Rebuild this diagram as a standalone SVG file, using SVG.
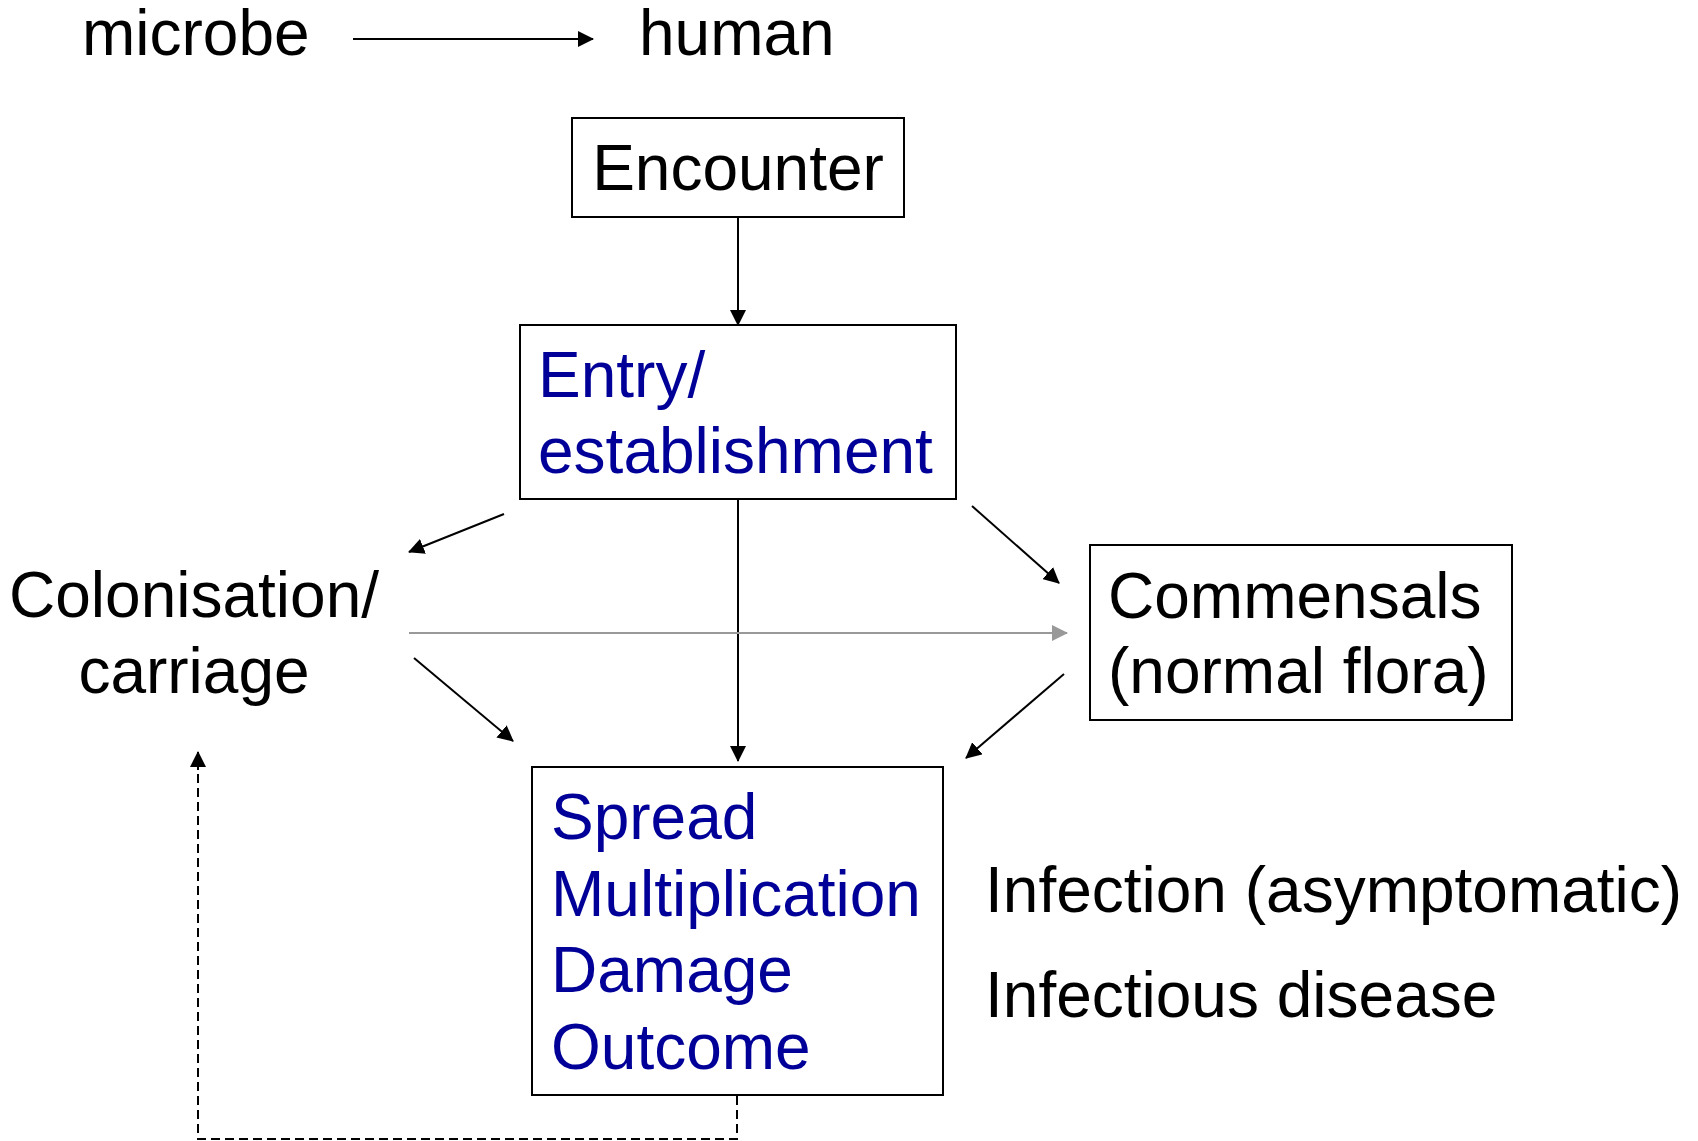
<svg xmlns="http://www.w3.org/2000/svg" width="1698" height="1141" viewBox="0 0 1698 1141">
  <style>
    text { font-family: "Liberation Sans", Arial, sans-serif; font-size: 64px; fill: #000; }
    .blue { fill: #000099; }
    .box { fill: #fff; stroke: #000; stroke-width: 2; }
    .link { fill: none; stroke: #000; stroke-width: 2; }
    .faint { fill: none; stroke: #999; stroke-width: 2; }
    .dash { fill: none; stroke: #000; stroke-width: 2; stroke-dasharray: 9 5; }
  </style>
  <defs>
    <marker id="head" markerUnits="userSpaceOnUse" markerWidth="16" markerHeight="16" refX="15" refY="8" orient="auto">
      <path d="M0,0 L16,8 L0,16 z" fill="#000"/>
    </marker>
    <marker id="headGray" markerUnits="userSpaceOnUse" markerWidth="16" markerHeight="16" refX="15" refY="8" orient="auto">
      <path d="M0,0 L16,8 L0,16 z" fill="#999"/>
    </marker>
  </defs>
  <rect width="1698" height="1141" fill="#fff"/>

  <!-- connectors -->
  <g id="connectors">
    <line class="link" x1="353" y1="39" x2="593" y2="39" marker-end="url(#head)"/>
    <line class="link" x1="738" y1="217" x2="738" y2="325" marker-end="url(#head)"/>
    <line class="link" x1="738" y1="499" x2="738" y2="761" marker-end="url(#head)"/>
    <line class="link" x1="504" y1="514" x2="409" y2="552" marker-end="url(#head)"/>
    <line class="link" x1="972" y1="506" x2="1059" y2="583" marker-end="url(#head)"/>
    <line class="faint" x1="409" y1="633" x2="1067" y2="633" marker-end="url(#headGray)"/>
    <line class="link" x1="414" y1="658" x2="513" y2="741" marker-end="url(#head)"/>
    <line class="link" x1="1064" y1="674" x2="966" y2="758" marker-end="url(#head)"/>
    <path class="dash" d="M737,1096 V1139 H198 V767"/>
    <line class="link" x1="198" y1="770" x2="198" y2="752" marker-end="url(#head)"/>
  </g>

  <!-- title row -->
  <g id="microbe"><text x="82" y="55">microbe</text></g>
  <g id="human"><text x="639" y="55">human</text></g>

  <g id="encounter">
    <rect class="box" x="572" y="118" width="332" height="99"/>
    <text x="738" y="190" text-anchor="middle">Encounter</text>
  </g>

  <g id="entry">
    <rect class="box" x="520" y="325" width="436" height="174"/>
    <text class="blue" x="538" y="397">Entry/</text>
    <text class="blue" x="538" y="473">establishment</text>
  </g>

  <g id="colonisation">
    <text x="194" y="617" text-anchor="middle">Colonisation/</text>
    <text x="194" y="693" text-anchor="middle">carriage</text>
  </g>

  <g id="commensals">
    <rect class="box" x="1090" y="545" width="422" height="175"/>
    <text x="1108" y="618">Commensals</text>
    <text x="1108" y="693">(normal flora)</text>
  </g>

  <g id="spread">
    <rect class="box" x="532" y="767" width="411" height="328"/>
    <text class="blue" x="551" y="839">Spread</text>
    <text class="blue" x="551" y="916">Multiplication</text>
    <text class="blue" x="551" y="992">Damage</text>
    <text class="blue" x="551" y="1069">Outcome</text>
  </g>

  <g id="outcomes">
    <text x="985" y="912">Infection (asymptomatic)</text>
    <text x="985" y="1017">Infectious disease</text>
  </g>
</svg>
